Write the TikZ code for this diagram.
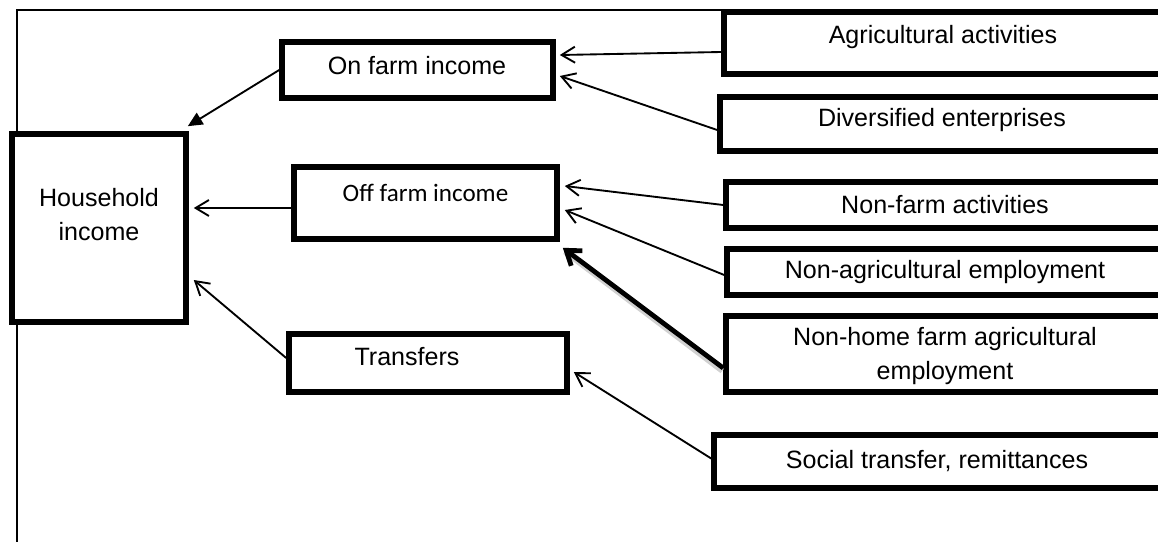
\documentclass[tikz,border=0pt]{standalone}
\usepackage{fontspec}
\setmainfont{Liberation Sans}
\newfontfamily\calfont{Carlito}
\usetikzlibrary{arrows.meta,calc}
\begin{document}
\begin{tikzpicture}[x=0.75pt,y=-0.75pt,
  bx/.style={draw, line width=4.2pt, fill=white, inner sep=0pt, rectangle},
  bxs/.style 2 args={bx, minimum width=#1*0.75pt, minimum height=#2*0.75pt},
  lbl/.style={font=\fontsize{18.8}{25.5}\selectfont, align=center, inner sep=0pt},
  arr/.style={line width=1.4pt, -{Straight Barb[length=10pt,width=12pt]}},
  arrfill/.style={line width=1.4pt, -{Triangle[length=11pt,width=10pt]}},
  arrthick/.style={line width=3.6pt, -{Straight Barb[length=10pt,width=14pt]}},
  shadowline/.style={line width=4pt, black!18},
  frame/.style={line width=1.3pt}
]
\useasboundingbox (0,0) rectangle (1158,542);
\clip (0,0) rectangle (1158,542);

% outer frame (open at bottom and right)
\draw[frame] (17,560) -- (17,10) -- (1190,10);

% boxes
\node[bxs={174}{188}] (hh) at (99,228) {};
\node[bxs={271}{56}] (on) at (417.5,70) {};
\node[bxs={263}{72}] (off) at (425.5,203) {};
\node[bxs={278}{58}] (tr) at (428,363) {};
\node[bxs={456}{62}] (agri) at (952,43) {};
\node[bxs={460}{54}] (div) at (950,124) {};
\node[bxs={454}{46}] (nf) at (953,205) {};
\node[bxs={453}{46}] (na) at (953.5,272) {};
\node[bxs={454}{76}] (nh) at (953,354) {};
\node[bxs={466}{53}] (soc) at (947,461.5) {};

% texts
\node[lbl] (hhT) at (99,214.5) {Household\\income};
\node[lbl] (onT) at (417,66) {On farm income};
\node[lbl, font={\calfont\fontsize{18.8}{25.5}\selectfont}] (offT) at (425.5,193) {Off farm income};
\node[lbl] (trT) at (407,357) {Transfers};
\node[lbl] (agriT) at (943,37) {Agricultural activities};
\node[lbl] (divT) at (942,120) {Diversified enterprises};
\node[lbl] (nfT) at (945,205) {Non-farm activities};
\node[lbl] (naT) at (945,272) {Non-agricultural employment};
\node[lbl] (nhT) at (945,356) {Non-home farm agricultural\\employment};
\node[lbl] (socT) at (937,461) {Social transfer, remittances};

% connectors
\draw[arrfill] (on.west) -- ($(hh.north east)+(-1,-5)$);
\draw[arr] ($(off.west)+(0,5)$) -- ($(hh.east)+(5,-20)$);
\draw[arr] ($(tr.west)+(0,-5)$) -- ($(hh.east)+(5,52)$);
\draw[arr] ($(agri.west)+(0,9)$) -- ($(on.east)+(4,-15)$);
\draw[arr] ($(div.west)+(0,6)$) -- ($(on.east)+(4,6)$);
\draw[arr] (nf.west) -- ($(off.east)+(5,-17)$);
\draw[arr] ($(na.west)+(0,3)$) -- ($(off.east)+(5,7)$);
\draw[shadowline] ($(nh.west)+(-1,17)$) -- ($(off.south east)+(5,10)$);
\draw[arrthick] ($(nh.west)+(0,14)$) -- ($(off.south east)+(3,6)$);
\draw[arr] ($(soc.west)+(0,-3)$) -- ($(tr.east)+(4,9)$);
\end{tikzpicture}
\end{document}
